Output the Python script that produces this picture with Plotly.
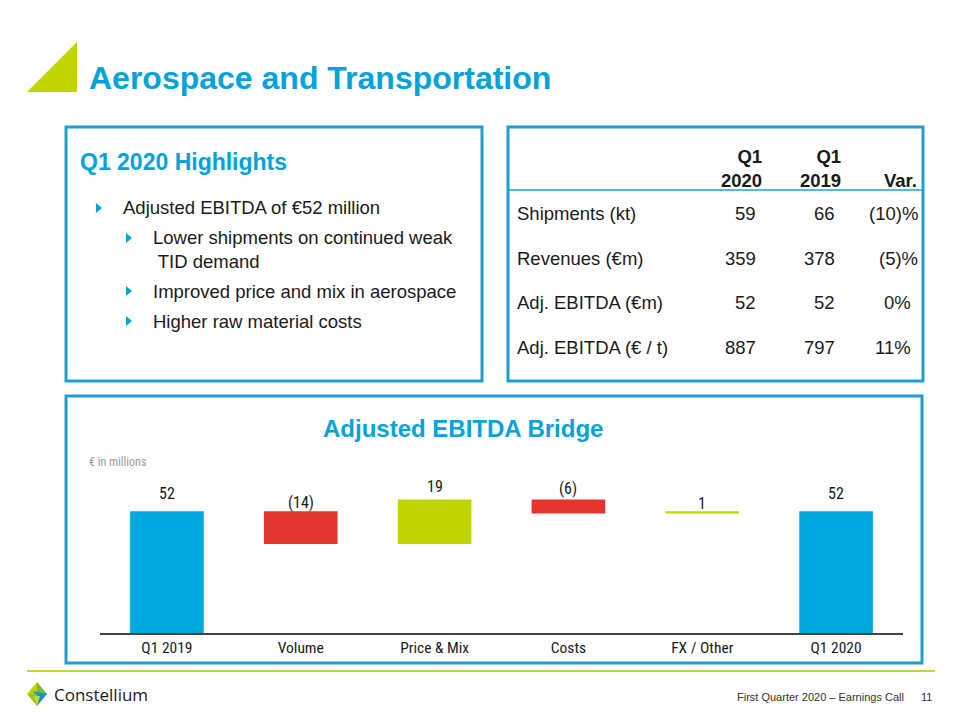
import plotly.graph_objects as go

# ---------------- data ----------------
categories = ["Q1 2019", "Volume", "Price & Mix", "Costs", "FX / Other", "Q1 2020"]
values = [52, -14, 19, -6, 1, 52]
measures = ["total", "relative", "relative", "relative", "relative", "total"]

table_cols = ["Q1<br>2020", "Q1<br>2019", "Var."]
table_rows = ["Shipments (kt)", "Revenues (€m)", "Adj. EBITDA (€m)", "Adj. EBITDA (€ / t)"]
q1_2020 = ["59", "359", "52", "887"]
q1_2019 = ["66", "378", "52", "797"]
variation = ["(10)%", "(5)%", "0%", "11%"]

highlights = [
    (0, "Adjusted EBITDA of €52 million"),
    (1, "Lower shipments on continued weak<br> TID demand"),
    (1, "Improved price and mix in aerospace"),
    (1, "Higher raw material costs"),
]

# ---------------- style ----------------
BLUE = "#00A3DA"
BORDER = "#1E9FD4"
BAR_BLUE = "#00A9E0"
RED = "#E3342F"
GREEN = "#BFD400"
LIME = "#C3D62B"
TXT = "#1A1A1A"
W, H = 960, 720


def X(px):
    return px / W


def Y(py):
    return 1 - py / H


# waterfall geometry from data
bases, heights, colors, labels, tops = [], [], [], [], []
running = 0
for v, m in zip(values, measures):
    if m == "total":
        bases.append(0)
        heights.append(v)
        colors.append(BAR_BLUE)
        running = v
    else:
        start, end = running, running + v
        bases.append(min(start, end))
        heights.append(abs(v))
        colors.append(GREEN if v > 0 else RED)
        running = end
    labels.append(f"({abs(v)})" if v < 0 else f"{v}")
    tops.append(bases[-1] + heights[-1])

label_shift = [6, -3, 1, -1, -4, 6]

fig = go.Figure()
fig.add_trace(go.Bar(
    x=categories, y=heights, base=bases,
    marker=dict(color=colors, line=dict(width=0)),
    width=0.55, hoverinfo="skip", showlegend=False,
))

CH_FONT = "Liberation Sans Narrow, Roboto Condensed, Roboto, Arial"
SANS = "Liberation Sans, Arial"

annotations = []
for c, t, lab, s in zip(categories, tops, labels, label_shift):
    annotations.append(dict(
        x=c, y=t, xref="x", yref="y", text=lab, showarrow=False,
        yanchor="bottom", yshift=s, font=dict(size=16, color=TXT, family=CH_FONT),
    ))

shapes = []

# title triangle
shapes.append(dict(type="path", xref="paper", yref="paper",
                   path=f"M {X(27)},{Y(92)} L {X(77)},{Y(42)} L {X(77)},{Y(92)} Z",
                   fillcolor=GREEN, line=dict(width=0)))

# boxes
for (x0, y0, x1, y1) in [(66, 127, 482, 381), (508, 127, 923, 381), (66, 396, 922, 663)]:
    shapes.append(dict(type="rect", xref="paper", yref="paper",
                       x0=X(x0), x1=X(x1), y0=Y(y1), y1=Y(y0),
                       line=dict(color=BORDER, width=3), fillcolor="rgba(0,0,0,0)"))

# table header line
shapes.append(dict(type="line", xref="paper", yref="paper",
                   x0=X(508), x1=X(923), y0=Y(190), y1=Y(190),
                   line=dict(color=BORDER, width=1.5)))

# footer green line
shapes.append(dict(type="line", xref="paper", yref="paper",
                   x0=X(27), x1=X(935), y0=Y(671), y1=Y(671),
                   line=dict(color=LIME, width=2)))

# title
annotations.append(dict(x=X(87), y=Y(78), xref="paper", yref="paper", xanchor="left",
                        yanchor="middle", showarrow=False, text="<b>Aerospace and Transportation</b>",
                        font=dict(size=32, color=BLUE, family=SANS)))

# highlights
annotations.append(dict(x=X(78), y=Y(162), xref="paper", yref="paper", xanchor="left",
                        yanchor="middle", showarrow=False, text="<b>Q1 2020 Highlights</b>",
                        font=dict(size=23, color=BLUE, family=SANS)))

hl_y = [208, 249, 291, 321]
for (lvl, txt), yy in zip(highlights, hl_y):
    bx = 96 if lvl == 0 else 126
    tx = 121 if lvl == 0 else 151
    by = yy if "<br>" not in txt else 238
    shapes.append(dict(type="path", xref="paper", yref="paper",
                       path=f"M {X(bx)},{Y(by-5)} L {X(bx+6)},{Y(by)} L {X(bx)},{Y(by+5)} Z",
                       fillcolor=BLUE, line=dict(width=0)))
    annotations.append(dict(x=X(tx), y=Y(yy), xref="paper", yref="paper", xanchor="left",
                            yanchor="middle", align="left", showarrow=False, text=txt,
                            font=dict(size=18.5, color=TXT, family=SANS)))

# table
col_right = [764, 843, 919]
for cx, ct in zip(col_right, table_cols):
    annotations.append(dict(x=X(cx), y=Y(193), xref="paper", yref="paper", xanchor="right",
                            yanchor="bottom", align="right", showarrow=False, text=f"<b>{ct}</b>",
                            font=dict(size=18.5, color=TXT, family=SANS)))
row_y = [213, 258, 302, 347]
for ry, name, a, b, v in zip(row_y, table_rows, q1_2020, q1_2019, variation):
    annotations.append(dict(x=X(515), y=Y(ry), xref="paper", yref="paper", xanchor="left",
                            yanchor="middle", showarrow=False, text=name,
                            font=dict(size=18.5, color=TXT, family=SANS)))
    vx = 920 if v.startswith("(") else 913
    for cx, val in zip([758, 837, vx], [a, b, v]):
        annotations.append(dict(x=X(cx), y=Y(ry), xref="paper", yref="paper", xanchor="right",
                                yanchor="middle", showarrow=False, text=val,
                                font=dict(size=18.5, color=TXT, family=SANS)))

# chart title and unit
annotations.append(dict(x=X(463), y=Y(428), xref="paper", yref="paper", xanchor="center",
                        yanchor="middle", showarrow=False, text="<b>Adjusted EBITDA Bridge</b>",
                        font=dict(size=24, color=BLUE, family=SANS)))
annotations.append(dict(x=X(87), y=Y(462), xref="paper", yref="paper", xanchor="left",
                        yanchor="middle", showarrow=False, text="€ in millions",
                        font=dict(size=12, color="#9A9A9A", family=CH_FONT)))

# footer logo
lx, ly = 37, 694
logo_parts = [
    ([(lx - 10, ly), (lx, ly - 12), (lx, ly)], "#BFD400"),
    ([(lx, ly - 12), (lx + 10, ly), (lx, ly)], "#7DB928"),
    ([(lx - 4, ly - 3), (lx + 10, ly), (lx + 2, ly + 6)], "#00A3DA"),
    ([(lx - 10, ly), (lx, ly), (lx, ly + 12)], "#9BC31C"),
    ([(lx, ly), (lx + 10, ly), (lx, ly + 12)], "#1B8FC8"),
    ([(lx - 3, ly + 2), (lx + 3, ly + 2), (lx, ly + 12)], "#C8DA2C"),
]
for pts, col in logo_parts:
    p = "M " + " L ".join(f"{X(a)},{Y(b)}" for a, b in pts) + " Z"
    shapes.append(dict(type="path", xref="paper", yref="paper", path=p,
                       fillcolor=col, line=dict(width=0)))
annotations.append(dict(x=X(52), y=Y(694), xref="paper", yref="paper", xanchor="left",
                        yanchor="middle", showarrow=False, text="Constellium",
                        font=dict(size=17, color="#1A1A1A", family="Open Sans, DejaVu Sans")))
annotations.append(dict(x=X(906), y=Y(697), xref="paper", yref="paper", xanchor="right",
                        yanchor="middle", showarrow=False, text="First Quarter 2020 – Earnings Call",
                        font=dict(size=11, color="#333333", family="Liberation Sans Narrow, Liberation Sans, Arial")))
annotations.append(dict(x=X(934), y=Y(697), xref="paper", yref="paper", xanchor="right",
                        yanchor="middle", showarrow=False, text="11",
                        font=dict(size=11, color="#333333", family="Liberation Sans Narrow, Liberation Sans, Arial")))

fig.update_layout(
    width=W, height=H,
    margin=dict(l=0, r=0, t=0, b=0),
    paper_bgcolor="white", plot_bgcolor="white",
    xaxis=dict(domain=[X(100), X(903)], type="category", showgrid=False, showline=True,
               linecolor="#444444", linewidth=1.5, ticks="", fixedrange=True,
               tickfont=dict(size=15.5, color=TXT, family=CH_FONT)),
    yaxis=dict(domain=[Y(633), Y(469)], range=[0, 70], visible=False, fixedrange=True),
    shapes=shapes, annotations=annotations,
    bargap=0.45,
)

fig.write_html("out.html")
